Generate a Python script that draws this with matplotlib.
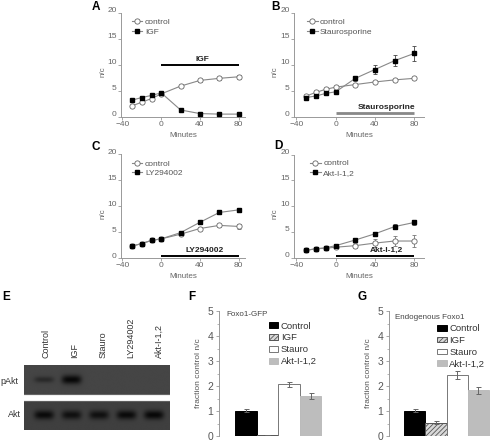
import numpy as np
import matplotlib.pyplot as plt
from matplotlib.transforms import ScaledTranslation

plt.rcParams['font.family'] = ['Liberation Sans', 'DejaVu Sans']
plt.rcParams['hatch.linewidth'] = 0.6

W, H = 490, 444

# time courses (minutes, n/c ratio)
minutes = [-30, -20, -10, 0, 20, 40, 60, 80]

a_ctrl = [2.1, 2.8, 3.5, 4.4, 5.9, 7.0, 7.4, 7.7]
a_ctrl_err = [0.2, 0.2, 0.2, 0.2, 0.2, 0.3, 0.3, 0.4]
a_igf = [3.2, 3.7, 4.1, 4.6, 1.3, 0.6, 0.5, 0.5]
a_igf_err = [0.2, 0.2, 0.2, 0.2, 0.2, 0.1, 0.1, 0.1]

b_ctrl = [4.0, 4.7, 5.3, 5.7, 6.2, 6.7, 7.1, 7.4]
b_ctrl_err = [0.2, 0.2, 0.2, 0.2, 0.2, 0.2, 0.2, 0.2]
b_stau = [3.7, 4.0, 4.5, 4.8, 7.4, 9.1, 10.8, 12.2]
b_stau_err = [0.3, 0.3, 0.3, 0.3, 0.5, 0.9, 1.1, 1.5]

c_ctrl = [2.3, 2.8, 3.4, 3.7, 4.6, 5.7, 6.3, 6.1]
c_ctrl_err = [0.1, 0.1, 0.1, 0.15, 0.2, 0.2, 0.3, 0.4]
c_ly = [2.3, 2.8, 3.4, 3.7, 4.9, 6.9, 8.8, 9.3]
c_ly_err = [0.1, 0.1, 0.1, 0.15, 0.2, 0.3, 0.3, 0.4]

d_ctrl = [1.4, 1.7, 1.8, 2.0, 2.3, 2.8, 3.2, 3.2]
d_ctrl_err = [0.1, 0.1, 0.1, 0.2, 0.5, 0.8, 1.0, 1.2]
d_akt = [1.4, 1.7, 1.9, 2.3, 3.4, 4.6, 6.0, 6.8]
d_akt_err = [0.1, 0.1, 0.2, 0.2, 0.3, 0.4, 0.5, 0.5]

# western blot band strength per lane (0..1)
lanes = ['Control', 'IGF', 'Stauro', 'LY294002', 'Akt-I-1,2']
pakt_signal = [0.45, 1.0, 0.0, 0.0, 0.0]
akt_signal = [0.95, 0.85, 0.85, 0.95, 1.0]

# bar panels (fraction control n/c)
bar_names = ['Control', 'IGF', 'Stauro', 'Akt-I-1,2']
f_vals = [1.02, 0.05, 2.07, 1.62]
f_err = [0.06, 0.01, 0.10, 0.12]
g_vals = [1.02, 0.54, 2.44, 1.83]
g_err = [0.06, 0.05, 0.17, 0.15]

fig = plt.figure(figsize=(W / 100, H / 100), dpi=100)


def add_px_axes(l, t, r, b):
    return fig.add_axes([l / W, 1 - b / H, (r - l) / W, (b - t) / H])


def letter(x, y, s):
    fig.text(x / W, 1 - y / H, s, fontsize=8.5, fontweight='bold', ha='center', va='center')


up = ScaledTranslation(0, 0.03, fig.dpi_scale_trans)


def line_panel(rect, xlim, ctrl, ctrl_err, trt, trt_err, trt_name,
               bar_y, bar_col, bar_lw, lbl_x, leg_xy):
    ax = add_px_axes(*rect)
    ax.errorbar(minutes, ctrl, yerr=ctrl_err, fmt='none', ecolor='#777', elinewidth=0.6,
                capsize=1.5, capthick=0.6, zorder=2)
    h1, = ax.plot(minutes, ctrl, color='#888', lw=0.8, marker='o', ms=3.8, mfc='white',
                  mec='#666', mew=0.6, zorder=3)
    ax.errorbar(minutes, trt, yerr=trt_err, fmt='none', ecolor='#444', elinewidth=0.6,
                capsize=1.5, capthick=0.6, zorder=4)
    h2, = ax.plot(minutes, trt, color='#888', lw=0.8, marker='s', ms=3.3, mfc='black',
                  mec='black', zorder=5)
    ax.plot([0, 80], [bar_y, bar_y], color=bar_col, lw=bar_lw, solid_capstyle='butt', zorder=1)
    ax.text(lbl_x, bar_y + 0.4, trt_name, fontsize=6, fontweight='bold', color='#222',
            ha='center', va='bottom')
    ax.set_xlim(*xlim)
    ax.set_ylim(0, 20)
    ax.set_xticks([-40, 0, 40, 80])
    ax.set_yticks([0, 5, 10, 15, 20])
    for s in ('top', 'right'):
        ax.spines[s].set_visible(False)
    for s in ('left', 'bottom'):
        ax.spines[s].set_color('#999')
        ax.spines[s].set_linewidth(0.7)
    ax.tick_params(length=2, width=0.6, pad=1, labelsize=6, color='#999', labelcolor='#666')
    for lab in ax.get_yticklabels():
        lab.set_transform(lab.get_transform() + up)
    ax.set_xlabel('Minutes', fontsize=5.8, color='#666', labelpad=3)
    ax.set_ylabel('n/c', fontsize=5.8, color='#666')
    ax.yaxis.set_label_coords(-0.12, 0.43)
    ax.legend([h1, h2], ['control', trt_name], loc='upper left', bbox_to_anchor=leg_xy,
              frameon=False, fontsize=6, handlelength=1.3, handletextpad=0.3,
              labelspacing=0.2, borderpad=0, borderaxespad=0, numpoints=1,
              labelcolor='#555')
    return ax


line_panel((121, 13, 245, 116.7), (-41.5, 86.5), a_ctrl, a_ctrl_err, a_igf, a_igf_err,
           'IGF', 9.9, 'black', 1.4, 43, (0.086, 0.95))
line_panel((294, 13, 424, 116.7), (-42.5, 90), b_ctrl, b_ctrl_err, b_stau, b_stau_err,
           'Staurosporine', 0.65, '#888', 2.0, 52, (0.098, 0.95))
line_panel((121, 154.5, 245, 258), (-41.5, 86.5), c_ctrl, c_ctrl_err, c_ly, c_ly_err,
           'LY294002', 0.45, 'black', 1.4, 45, (0.086, 0.95))
line_panel((294, 154.5, 424, 257.5), (-42.5, 90), d_ctrl, d_ctrl_err, d_akt, d_akt_err,
           'Akt-I-1,2', 0.3, 'black', 1.4, 52, (0.123, 0.95))

letter(96, 7, 'A')
letter(275, 7, 'B')
letter(96, 147, 'C')
letter(278, 146, 'D')

# ---- E: western blot ----
axe = add_px_axes(24, 365, 170, 430)
x0, x1 = -0.727, 4.58
xs = np.linspace(x0, x1, 400)
ys = np.linspace(0, 65, 200)
X, Y = np.meshgrid(xs, ys)
img = np.ones_like(X)
top = (Y >= 35)
bot = (Y <= 29)
img[top] = 0.27
img[bot] = 0.25
for i in range(len(lanes)):
    prof = np.exp(-((X - i) / 0.36) ** 4)
    p_h = 2.0 + 2.5 * pakt_signal[i]
    band_p = pakt_signal[i] * prof * np.exp(-((Y - 50.5) / p_h) ** 2)
    img = np.where(top, img - 0.24 * band_p, img)
    band_a = akt_signal[i] * prof * np.exp(-((Y - 15) / 4.5) ** 2)
    img = np.where(bot, img - 0.22 * band_a, img)
axe.imshow(img, cmap='gray', vmin=0, vmax=1, extent=(x0, x1, 0, 65), origin='lower',
           aspect='auto', interpolation='bilinear')
axe.set_xlim(x0, x1)
axe.set_ylim(0, 65)
axe.axis('off')
for i, name in enumerate(lanes):
    axe.text(i + 0.08 + 0.03 * i, 72, name, rotation=90, fontsize=6.5, color='#333',
             ha='center', va='bottom', clip_on=False)
fig.text(18 / W, 1 - 381 / H, 'pAkt', fontsize=6.5, color='#333', ha='right', va='center')
fig.text(21 / W, 1 - 414 / H, 'Akt', fontsize=6.5, color='#333', ha='right', va='center')
letter(6, 297, 'E')

# ---- F / G: bar charts ----
bar_face = ['black', '#d8d8d8', 'white', '#bdbdbd']
bar_edge = ['black', '#555555', '#777777', '#bdbdbd']
bar_hatch = [None, '///////', None, None]


def bar_panel(rect, xlim, vals, errs, title, title_xy, leg_xy):
    ax = add_px_axes(*rect)
    idx = np.arange(len(vals))
    bars = ax.bar(idx, vals, width=1.0, color=bar_face, edgecolor=bar_edge, linewidth=0.7,
                  zorder=2)
    for b, h in zip(bars, bar_hatch):
        if h:
            b.set_hatch(h)
    ax.errorbar(idx, vals, yerr=errs, fmt='none', ecolor='#666', elinewidth=0.7,
                capsize=1.8, capthick=0.7, zorder=3)
    ax.set_xlim(*xlim)
    ax.set_ylim(0, 5)
    ax.set_yticks([0, 1, 2, 3, 4, 5])
    ax.set_yticks(np.arange(0.5, 5, 1), minor=True)
    ax.set_xticks([])
    for s in ('top', 'right', 'bottom'):
        ax.spines[s].set_visible(False)
    ax.spines['left'].set_color('#999')
    ax.spines['left'].set_linewidth(0.7)
    ax.tick_params(axis='y', length=2.5, width=0.6, pad=1.5, labelsize=7.5, color='#999',
                   labelcolor='#555')
    ax.tick_params(axis='y', which='minor', length=1.5, width=0.5, color='#999')
    ax.set_ylabel('fraction control n/c', fontsize=6, color='#555', labelpad=4)
    ax.text(title_xy[0], title_xy[1], title, transform=ax.transAxes, fontsize=5.8,
            color='#444', ha='left', va='center')
    ax.legend(bars, bar_names, loc='upper left', bbox_to_anchor=leg_xy, frameon=False,
              fontsize=6.8, handlelength=1.0, handleheight=0.55, handletextpad=0.25,
              labelspacing=0.3, borderpad=0, borderaxespad=0, labelcolor='#333')
    return ax


bar_panel((219, 311, 330, 436), (-1.24, 3.9), f_vals, f_err, 'Foxo1-GFP',
          (0.07, 0.975), (0.45, 0.915))
bar_panel((389, 311, 490, 436), (-1.2, 3.54), g_vals, g_err, 'Endogenous Foxo1',
          (0.06, 0.95), (0.48, 0.895))
letter(192, 297, 'F')
letter(362, 297, 'G')

fig.savefig('out.png', dpi=100)
